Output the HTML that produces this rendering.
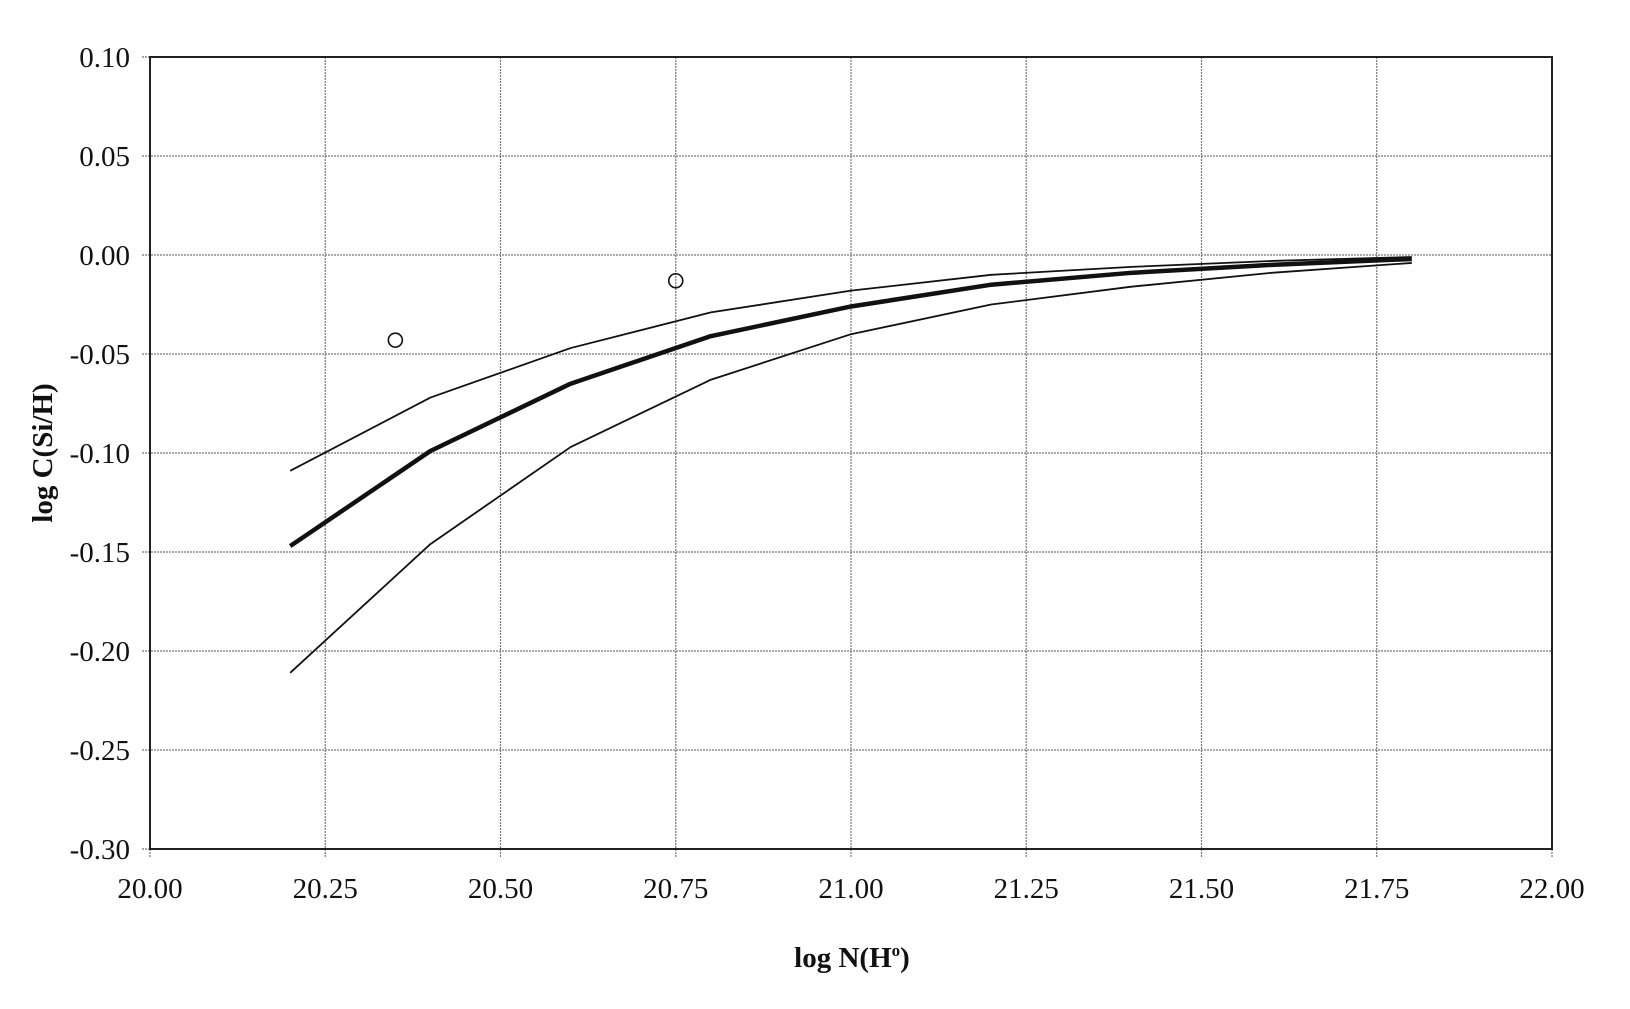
<!DOCTYPE html>
<html><head><meta charset="utf-8"><style>
body{margin:0;background:#fff}
svg text{font-family:"Liberation Serif",serif;fill:#111}
</style></head><body>
<svg id="chart" width="1630" height="1004" xmlns="http://www.w3.org/2000/svg"></svg>
<script>
const xTicks=[20.00,20.25,20.50,20.75,21.00,21.25,21.50,21.75,22.00];
const yTicks=[0.10,0.05,0.00,-0.05,-0.10,-0.15,-0.20,-0.25,-0.30];
const xVals=[20.2,20.4,20.6,20.8,21.0,21.2,21.4,21.6,21.8];
const upperVals=[-0.109,-0.072,-0.047,-0.029,-0.018,-0.010,-0.006,-0.003,-0.001];
const middleVals=[-0.147,-0.099,-0.065,-0.041,-0.026,-0.015,-0.009,-0.005,-0.002];
const lowerVals=[-0.211,-0.146,-0.097,-0.063,-0.040,-0.025,-0.016,-0.009,-0.004];
const obsX=[20.35,20.75];
const obsY=[-0.043,-0.013];

const L=150,R=1552,T=57,B=849;
const sx=v=>L+(v-20)/2*(R-L);
const sy=v=>T+(0.10-v)/0.40*(B-T);
const svg=document.getElementById('chart');
const NS='http://www.w3.org/2000/svg';
function mk(tag,attrs,parent){const e=document.createElementNS(NS,tag);for(const k in attrs)e.setAttribute(k,attrs[k]);(parent||svg).appendChild(e);return e;}

xTicks.forEach(t=>{
  const x=sx(t);
  const g=mk('line',{x1:x,y1:T,x2:x,y2:B+8,stroke:'#777','stroke-width':1.2,'stroke-dasharray':'2,1'});
  
  
  const tx=mk('text',{x:x,y:898,'font-size':29,'text-anchor':'middle'});
  tx.textContent=t.toFixed(2);
  
  
});
yTicks.forEach(t=>{
  const y=sy(t);
  const g=mk('line',{x1:L-8,y1:y,x2:R,y2:y,stroke:'#777','stroke-width':1.2,'stroke-dasharray':'2,1'});
  
  
  const tx=mk('text',{x:130,y:y+10,'font-size':29,'text-anchor':'end'});
  tx.textContent=t.toFixed(2);
  
  
});
const frame=mk('rect',{x:L,y:T,width:R-L,height:B-T,fill:'none',stroke:'#222','stroke-width':2});



function series(vals,w,name){
  const d=xVals.map((x,i)=>(i?'L':'M')+sx(x)+','+sy(vals[i])).join(' ');
  const p=mk('path',{d:d,fill:'none',stroke:'#111','stroke-width':w,'stroke-linejoin':'round'});
  
  
}
series(upperVals,1.8,'upper-bound-line');
series(lowerVals,1.8,'lower-bound-line');
series(middleVals,4.5,'model-line');
obsX.forEach((x,i)=>{
  const c=mk('circle',{cx:sx(x),cy:sy(obsY[i]),r:7,fill:'none',stroke:'#111','stroke-width':1.6});
  
  
});
const xt=mk('text',{x:852,y:967,'font-size':29,'font-weight':'bold','text-anchor':'middle'});
xt.innerHTML='log N(H<tspan dy="-11" font-size="17">o</tspan><tspan dy="11">)</tspan>';


const yt=mk('text',{x:0,y:0,'font-size':29,'font-weight':'bold','text-anchor':'middle',transform:'translate(52,453) rotate(-90)'});
yt.textContent='log C(Si/H)';


</script>
</body></html>
